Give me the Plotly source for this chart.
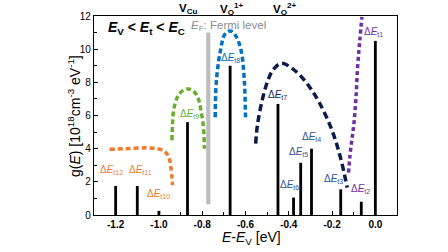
import plotly.graph_objects as go

# ---- data ----
bar_x = [-1.2, -1.1, -1.0, -0.868, -0.671, -0.45, -0.378, -0.345, -0.295, -0.16, -0.065, 0.0]
bar_y = [1.75, 1.75, 0.25, 5.6, 9.0, 6.7, 1.05, 3.15, 4.0, 1.55, 0.8, 10.5]

fermi_x = [-0.772]
fermi_lo = [0.65]
fermi_hi = [11.0]

orange_x = [-1.228, -1.15, -1.06, -1.01, -0.975, -0.955, -0.945, -0.937]
orange_y = [3.96, 4.0, 4.05, 4.0, 3.85, 3.5, 2.9, 1.8]

green_x = [-0.94, -0.937, -0.932, -0.915, -0.89, -0.862, -0.835, -0.815, -0.806, -0.795, -0.79]
green_y = [4.5, 5.5, 6.3, 7.1, 7.5, 7.6, 7.4, 6.9, 6.3, 5.4, 4.0]

blue_x = [-0.74, -0.735, -0.716, -0.695, -0.67, -0.645, -0.62, -0.605, -0.6]
blue_y = [5.9, 8.0, 9.9, 10.9, 11.1, 10.8, 9.9, 8.0, 5.9]

navy_x = [-0.553, -0.545, -0.525, -0.497, -0.47, -0.434, -0.38, -0.32, -0.26, -0.2, -0.16, -0.13]
navy_y = [4.3, 5.4, 6.8, 8.1, 8.8, 9.15, 8.8, 8.0, 6.8, 5.1, 3.4, 1.65]

purple_x = [-0.124, -0.118, -0.108, -0.1, -0.09, -0.082, -0.072, -0.062]
purple_y = [2.55, 3.5, 4.6, 5.4, 7.0, 8.9, 10.5, 11.95]

labels = ["t12", "t11", "t10", "t9", "t8", "t7", "t6", "t5", "t4", "t3", "t2", "t1"]
label_x = [-1.217, -1.087, -1.0, -0.86, -0.668, -0.452, -0.399, -0.357, -0.296, -0.195, -0.067, -0.01]
label_y = [2.71, 2.71, 1.27, 6.08, 9.46, 7.23, 1.81, 3.8, 4.7, 2.17, 1.57, 11.02]
label_c = ["#ED7D31", "#ED7D31", "#ED7D31", "#6AAE2E", "#0070C0", "#14245E",
           "#2F5597", "#2F5597", "#2F5597", "#2F5597", "#7030A0", "#7030A0"]

x_ticks = [-1.2, -1.0, -0.8, -0.6, -0.4, -0.2, 0.0]
x_ticklabels = ["-1.2", "-1.0", "-0.8", "-0.6", "-0.4", "-0.2", "0.0"]
y_ticks = [0, 2, 4, 6, 8, 10, 12]

fig = go.Figure()

fig.add_trace(go.Bar(x=fermi_x, y=[fermi_hi[0] - fermi_lo[0]], base=fermi_lo,
                     width=0.019, marker=dict(color="#BDBDBD", line=dict(width=0))))
fig.add_trace(go.Bar(x=bar_x, y=bar_y, width=0.013,
                     marker=dict(color="black", line=dict(width=0))))

dash = "5px,3px"
for xs, ys, col, d in [(orange_x, orange_y, "#ED7D31", dash),
                       (green_x, green_y, "#6AAE2E", dash),
                       (blue_x, blue_y, "#0070C0", dash),
                       (navy_x, navy_y, "#0D1A4C", "7px,4px"),
                       (purple_x, purple_y, "#7030A0", "4px,3px")]:
    fig.add_trace(go.Scatter(x=xs, y=ys, mode="lines",
                             line=dict(color=col, width=3.5, dash=d, shape="spline", smoothing=1.0)))

for lab, lx, ly, lc in zip(labels, label_x, label_y, label_c):
    fig.add_annotation(x=lx, y=ly, xref="x", yref="y", showarrow=False,
                       text="Δ<i>E</i><sub>" + lab + "</sub>",
                       font=dict(size=10, color=lc, family="Liberation Sans"))

fig.add_annotation(x=0.04, y=0.995, xref="paper", yref="paper", xanchor="left", yanchor="top",
                   showarrow=False,
                   text="<b><i>E</i><sub>V</sub> &lt; <i>E</i><sub>t</sub> &lt; <i>E</i><sub>C</sub></b>",
                   font=dict(size=14, color="black", family="Liberation Sans"))
fig.add_annotation(x=0.315, y=0.995, xref="paper", yref="paper", xanchor="left", yanchor="top",
                   showarrow=False,
                   text="<i>E</i><sub>F</sub>: Fermi level",
                   font=dict(size=11.5, color="#8C8C8C", family="Liberation Sans"))

for txt, px in [("V<sub>Cu</sub>", -0.865), ("V<sub>O</sub><sup>1+</sup>", -0.665), ("V<sub>O</sub><sup>2+</sup>", -0.42)]:
    fig.add_annotation(x=px, y=1.035, xref="x", yref="paper", yanchor="middle", showarrow=False,
                       text="<b>" + txt + "</b>", font=dict(size=11.5, color="black", family="Liberation Sans"))

# axis titles
fig.add_annotation(x=0.52, y=-0.118, xref="paper", yref="paper", showarrow=False, yanchor="middle",
                   text="<i>E</i>-<i>E</i><sub>V</sub> [eV]",
                   font=dict(size=14, family="Liberation Sans", color="black"))
fig.add_annotation(x=-0.104, y=0.5, xref="paper", yref="paper", showarrow=False, textangle=-90,
                   text="g(<i>E</i>) [10<sup>18</sup>cm<sup>-3</sup> eV<sup>-1</sup>]",
                   font=dict(size=14, family="Liberation Sans", color="black"))

fig.update_layout(
    width=448, height=252,
    margin=dict(l=94, r=51, t=16, b=37),
    paper_bgcolor="white", plot_bgcolor="white",
    showlegend=False, barmode="overlay",
    xaxis=dict(range=[-1.3, 0.1], tickvals=x_ticks, ticktext=x_ticklabels, automargin=False,
               ticks="inside", ticklen=4, tickcolor="black", showgrid=False, zeroline=False,
               showline=True, linecolor="black", linewidth=1.2, mirror=True,
               minor=dict(dtick=0.1, ticks="inside", ticklen=2.5, tickcolor="black"),
               tickfont=dict(size=10, family="Liberation Sans", color="black", weight="bold")),
    yaxis=dict(range=[0, 12], tickvals=y_ticks, automargin=False,
               ticks="inside", ticklen=4, tickcolor="black", showgrid=False, zeroline=False,
               showline=True, linecolor="black", linewidth=1.2, mirror=True,
               minor=dict(dtick=1, ticks="inside", ticklen=2.5, tickcolor="black"),
               tickfont=dict(size=10, family="Liberation Sans", color="black")),
)

fig.write_html("out.html", config={"displayModeBar": False},
               post_script="document.body.style.margin='0px';")
